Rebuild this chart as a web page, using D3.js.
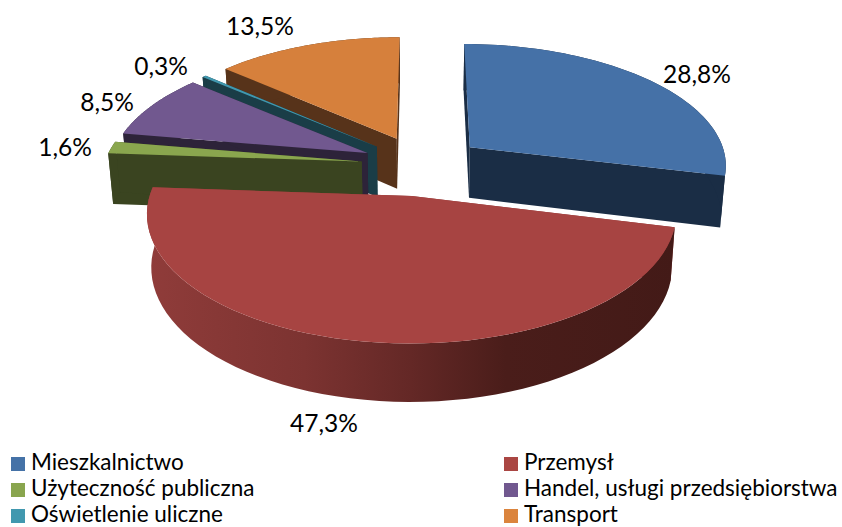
<!DOCTYPE html>
<html>
<head>
<meta charset="utf-8">
<script src="https://cdnjs.cloudflare.com/ajax/libs/d3/7.8.5/d3.min.js"></script>
<style>
  body { margin: 0; background: #fff; }
  text { font-family: Lato, "Open Sans", sans-serif; fill: #000; }
</style>
</head>
<body>
<svg class="chart"></svg>
<script>
const categories = ["Mieszkalnictwo", "Przemysł", "Użyteczność publiczna", "Handel, usługi przedsiębiorstwa", "Oświetlenie uliczne", "Transport"]
const values = [28.8, 47.3, 1.6, 8.5, 0.3, 13.5]
const labels = ["28,8%", "47,3%", "1,6%", "8,5%", "0,3%", "13,5%"]
const topColors = ["#4571a7", "#a74442", "#8aa64e", "#71588f", "#4198af", "#d6803c"]
const wallColors = ["#1a2d45", "#451b18", "#3a4420", "#2d2339", "#1a3d47", "#57331a"]
const legendColors = ["#4572a7", "#aa4643", "#89a54e", "#71588f", "#4198af", "#db843d"]
const labelAnchors = [[697, 83], [324, 432], [65, 156], [107, 111], [161, 75], [260, 35]]
const explodes = [0.24, 0.25, 0.236, 0.236, 0.236, 0.245]
const sizes = [1, 0.983, 1, 1, 1, 1]

const width = 842, height = 527
const cx = 422, cy = 165, radiusX = 258, radiusY = 121.4
const perspective = 0.133, depth = 52, depthShrink = 0.016

const svg = d3.select(".chart").attr("width", width).attr("height", height)

// side of the big slice goes from lighter on the left to dark on the right
const grad = svg.append("defs").append("linearGradient").attr("id", "redSide")
  .attr("gradientUnits", "userSpaceOnUse").attr("x1", 146).attr("x2", 675).attr("y1", 0).attr("y2", 0)
grad.selectAll("stop").data([[0, "#903c3a"], [0.3, "#7c3331"], [0.5, "#642826"], [0.68, "#4a1d1a"], [1, "#431a17"]])
  .join("stop").attr("offset", d => d[0]).attr("stop-color", d => d[1])

// ground plane (u right, v towards the viewer) to screen, z = 1 is the bottom face
const project = (u, v, z) => {
  const w = (1 - perspective * v) * (1 + depthShrink * z)
  return [cx + radiusX * u / w, cy + (radiusY * v + depth * z) / w]
}

const pie = d3.pie().sort(null)
const slices = pie(values).map((d, i) => {
  const mid = (d.startAngle + d.endAngle) / 2
  return { ...d, i, r: sizes[i], ou: explodes[i] * Math.sin(mid), ov: -explodes[i] * Math.cos(mid) }
})

const rimPoint = (s, a, z) => project(s.ou + s.r * Math.sin(a), s.ov - s.r * Math.cos(a), z)
const rimPoints = (s, z) => d3.range(0, 61).map(k => rimPoint(s, s.startAngle + (s.endAngle - s.startAngle) * k / 60, z))
const edgePoints = (s, a) => [project(s.ou, s.ov, 0), rimPoint(s, a, 0), rimPoint(s, a, 1), project(s.ou, s.ov, 1)]

const line = d3.line()
const closed = pts => line(pts) + "Z"

// back slices first, the big front slice last
const order = [5, 4, 3, 2, 0, 1]
const g = svg.append("g")
order.forEach(i => {
  const s = slices[i]
  const fill = i === 1 ? "url(#redSide)" : wallColors[i]
  const cut = i === 1 ? "#903c3a" : wallColors[i]
  g.append("path").attr("d", closed(edgePoints(s, s.startAngle))).attr("fill", cut)
  g.append("path").attr("d", closed(edgePoints(s, s.endAngle))).attr("fill", cut)
  g.append("path").attr("d", closed(rimPoints(s, 0).concat(rimPoints(s, 1).reverse()))).attr("fill", fill)
  g.append("path").attr("d", closed([project(s.ou, s.ov, 0)].concat(rimPoints(s, 0)))).attr("fill", topColors[i])
})

svg.append("g").selectAll("text").data(labels).join("text")
  .attr("x", (d, i) => labelAnchors[i][0])
  .attr("y", (d, i) => labelAnchors[i][1])
  .attr("text-anchor", "middle")
  .attr("font-size", 24.5)
  .text(d => d)

// legend, two columns
const legendX = d3.scalePoint().domain([0, 1]).range([11, 504])
const legendY = d3.scalePoint().domain([0, 1, 2]).range([457, 509])
const legend = svg.append("g").selectAll("g").data(categories).join("g")
  .attr("transform", (d, i) => `translate(${legendX(i % 2)}, ${legendY(Math.floor(i / 2))})`)
legend.append("rect").attr("width", 14).attr("height", 14).attr("fill", (d, i) => legendColors[i])
legend.append("text").attr("x", 20).attr("y", 13).attr("font-size", 22.5).text(d => d)
</script>
</body>
</html>
